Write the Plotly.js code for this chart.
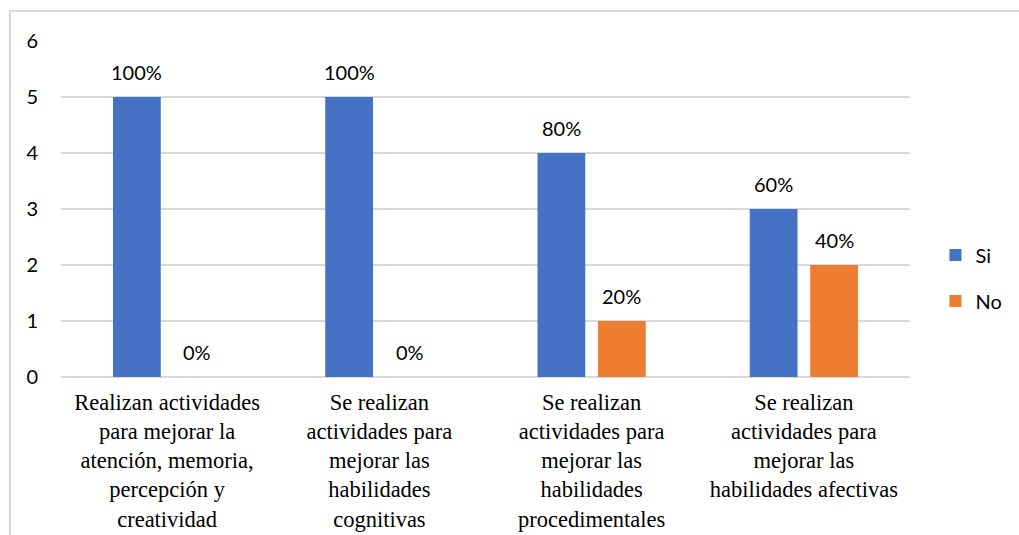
<!DOCTYPE html>
<html>
<head>
<meta charset="utf-8">
<script src="https://cdn.plot.ly/plotly-3.0.1.min.js"></script>
<style>
html,body{margin:0;padding:0;background:#fff;}
#wrap{position:relative;width:1019px;height:535px;overflow:hidden;}
#chart{position:absolute;left:0;top:0;width:1019px;height:535px;}
#frame{position:absolute;left:9px;top:10px;width:1015px;height:530px;border-left:2px solid #d9d9d9;border-top:2px solid #d9d9d9;pointer-events:none;}
</style>
</head>
<body>
<div id="wrap"><div id="chart"></div><div id="frame"></div></div>
<script>
var categories = [
  "Realizan actividades<br>para mejorar la<br>atención, memoria,<br>percepción y<br>creatividad",
  "Se realizan<br>actividades para<br>mejorar las<br>habilidades<br>cognitivas",
  "Se realizan<br>actividades para<br>mejorar las<br>habilidades<br>procedimentales",
  "Se realizan<br>actividades para<br>mejorar las<br>habilidades afectivas"
];
var siValues = [5, 5, 4, 3];
var noValues = [0, 0, 1, 2];
var siLabels = ["100%", "100%", "80%", "60%"];
var noLabels = ["0%", "0%", "20%", "40%"];
var yTicks = [0, 1, 2, 3, 4, 5, 6];

var BLUE = "#4472C4", ORANGE = "#ED7D31";
var bargap = 0.43, bargroupgap = 0.21;
var off = (1 - bargap) / 4;

var traces = [
  {type: "bar", name: "Si", x: categories, y: siValues, marker: {color: BLUE}, legendgroup: "a", hoverinfo: "none"},
  {type: "bar", name: "No", x: categories, y: noValues, marker: {color: ORANGE}, legendgroup: "b", hoverinfo: "none"}
];

var annotations = [];
categories.forEach(function(c, i) {
  annotations.push({x: i - off, y: siValues[i], xref: "x", yref: "y", text: siLabels[i], showarrow: false,
    yanchor: "middle", yshift: 25, font: {family: "Lato", size: 20, color: "#000"}});
  annotations.push({x: i + off, y: noValues[i], xref: "x", yref: "y", text: noLabels[i], showarrow: false,
    yanchor: "middle", yshift: 25, font: {family: "Lato", size: 20, color: "#000"}});
});

var layout = {
  width: 1019, height: 535,
  margin: {l: 61, r: 107, t: 41, b: 158, pad: 0},
  paper_bgcolor: "#fff", plot_bgcolor: "#fff",
  barmode: "group", bargap: bargap, bargroupgap: bargroupgap,
  showlegend: true,
  legend: {x: 1.03, xanchor: "left", y: 0.295, yanchor: "middle", traceorder: "grouped", tracegroupgap: 17,
    font: {family: "Lato", size: 20, color: "#000"}, itemwidth: 30},
  xaxis: {type: "category", showgrid: false, showline: false, zeroline: false, ticks: "",
    ticklabelstandoff: 9,
    tickfont: {family: "Liberation Serif", size: 22.5, color: "#000"}, automargin: false},
  yaxis: {range: [0, 6], tickvals: yTicks, showgrid: true, gridcolor: "#d9d9d9", gridwidth: 1.5,
    zeroline: true, zerolinecolor: "#d9d9d9", zerolinewidth: 1.5, showline: false, ticks: "",
    ticklabelstandoff: 22, tickfont: {family: "Lato", size: 20, color: "#000"}, automargin: false, fixedrange: true},
  annotations: annotations
};

Plotly.newPlot("chart", traces, layout, {displayModeBar: false, staticPlot: true});
</script>
</body>
</html>
